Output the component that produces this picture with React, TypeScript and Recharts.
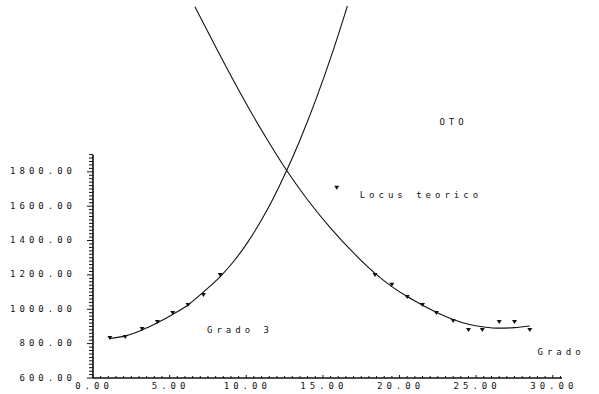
import {
  ComposedChart,
  Line,
  ReferenceDot,
  ReferenceLine,
  Scatter,
  XAxis,
  YAxis,
} from "recharts";

// measured points (triangles)
const grado3X = [1.1, 2.1, 3.2, 4.2, 5.2, 6.2, 7.2, 8.3];
const grado3Y = [833, 838, 885, 926, 978, 1025, 1083, 1200];
const locusX = [18.4, 19.5, 20.5, 21.5, 22.4, 23.5, 24.5, 25.4, 26.5, 27.5, 28.5];
const locusY = [1200, 1142, 1072, 1025, 978, 932, 880, 880, 926, 926, 880];
const legendX = [15.9];
const legendY = [1707];

// fitted curves
const riseX = [1.1, 2.1, 3.2, 4.2, 5.2, 6.2, 7.2, 8.3, 9.2, 10.1, 11.0, 11.74, 12.65, 13.5, 14.6, 15.65, 16.6];
const riseY = [830, 845, 880, 922, 970, 1025, 1100, 1190, 1281, 1391, 1521, 1642, 1810, 1984, 2235, 2501, 2765];
const fallX = [6.65, 8.1, 9.6, 11.1, 12.65, 13.96, 15.46, 17.0, 18.4, 19.5, 20.5, 21.5, 22.5, 23.5, 24.5, 25.5, 26.5, 27.5, 28.5];
const fallY = [2761, 2510, 2260, 2027, 1806, 1642, 1477, 1328, 1209, 1132, 1074, 1024, 979, 941, 913, 897, 890, 893, 903];

const xLabels = [0, 5, 10, 15, 20, 25, 30];
const yLabels = [600, 800, 1000, 1200, 1400, 1600, 1800];

const zip = (xs: number[], ys: number[]) => xs.map((x, i) => ({ x, y: ys[i] }));

const FONT = "'DejaVu Sans Mono', monospace";

const textStyle = {
  fontFamily: FONT,
  fontSize: 9,
  letterSpacing: 4,
  fill: "#111",
};

// small tick marks along the axes
const yMinor = Array.from({ length: 66 }, (_, i) => 600 + i * 20);
const xMinor = Array.from({ length: 62 }, (_, i) => i * 0.5);

function Tri(props: any) {
  const { cx, cy } = props;
  return (
    <path
      d={`M${cx - 2.5},${cy - 2} L${cx + 2.5},${cy - 2} L${cx},${cy + 2} Z`}
      fill="#111"
    />
  );
}

function XTick({ x, y, payload }: any) {
  const v = Number(payload.value);
  const major = xLabels.includes(v);
  return (
    <g>
      <line x1={x} x2={x} y1={y} y2={y - (major ? 3 : 2)} stroke="#111" strokeWidth={1} />
      {major && (
        <text x={x + 1} y={y + 8} textAnchor="middle" dominantBaseline="middle" style={textStyle}>
          {v.toFixed(2)}
        </text>
      )}
    </g>
  );
}

function YTick({ x, y, payload }: any) {
  const v = Number(payload.value);
  const major = yLabels.includes(v);
  return (
    <g>
      <line x1={x - (major ? 6 : 4)} x2={x} y1={y} y2={y} stroke="#111" strokeWidth={1} />
      {major && (
        <text x={x - 17} y={y} textAnchor="end" dominantBaseline="middle" style={textStyle}>
          {v.toFixed(2)}
        </text>
      )}
    </g>
  );
}

function Note({ viewBox, text }: any) {
  if (!viewBox) return null;
  return (
    <text x={viewBox.x} y={viewBox.y} dominantBaseline="middle" style={textStyle}>
      {text}
    </text>
  );
}

export default function App() {
  return (
    <div style={{ position: "absolute", left: 0, top: 0, width: 599, height: 394, background: "#fff" }}>
      <ComposedChart width={599} height={394} margin={{ top: 0, right: 37, bottom: 0, left: 0 }}>
        <XAxis
          type="number"
          dataKey="x"
          domain={[0, 30.6]}
          allowDataOverflow
          ticks={xMinor}
          interval={0}
          height={16}
          tickLine={false}
          tickSize={0}
          tickMargin={0}
          tick={<XTick />}
          axisLine={{ stroke: "#111", strokeWidth: 1.3 }}
        />
        <YAxis
          type="number"
          domain={[600, 2800]}
          allowDataOverflow
          ticks={yMinor}
          interval={0}
          width={93}
          axisLine={false}
          tickLine={false}
          tickSize={0}
          tickMargin={0}
          tick={<YTick />}
        />
        <ReferenceLine
          segment={[
            { x: 0, y: 600 },
            { x: 0, y: 1900 },
          ]}
          stroke="#111"
          strokeWidth={1.6}
        />
        <Line
          data={zip(riseX, riseY)}
          dataKey="y"
          type="monotone"
          stroke="#111"
          strokeWidth={1.1}
          dot={false}
          isAnimationActive={false}
        />
        <Line
          data={zip(fallX, fallY)}
          dataKey="y"
          type="monotone"
          stroke="#111"
          strokeWidth={1.1}
          dot={false}
          isAnimationActive={false}
        />
        <Scatter data={zip(grado3X, grado3Y)} dataKey="y" shape={<Tri />} isAnimationActive={false} />
        <Scatter data={zip(locusX, locusY)} dataKey="y" shape={<Tri />} isAnimationActive={false} />
        <Scatter data={zip(legendX, legendY)} dataKey="y" shape={<Tri />} isAnimationActive={false} />
        <ReferenceDot x={22.6} y={2085} r={0} label={<Note text="OTO" />} />
        <ReferenceDot x={17.4} y={1660} r={0} label={<Note text="Locus teorico" />} />
        <ReferenceDot x={7.44} y={874} r={0} label={<Note text="Grado 3" />} />
        <ReferenceDot x={29.0} y={746} r={0} label={<Note text="Grado" />} />
      </ComposedChart>
    </div>
  );
}
